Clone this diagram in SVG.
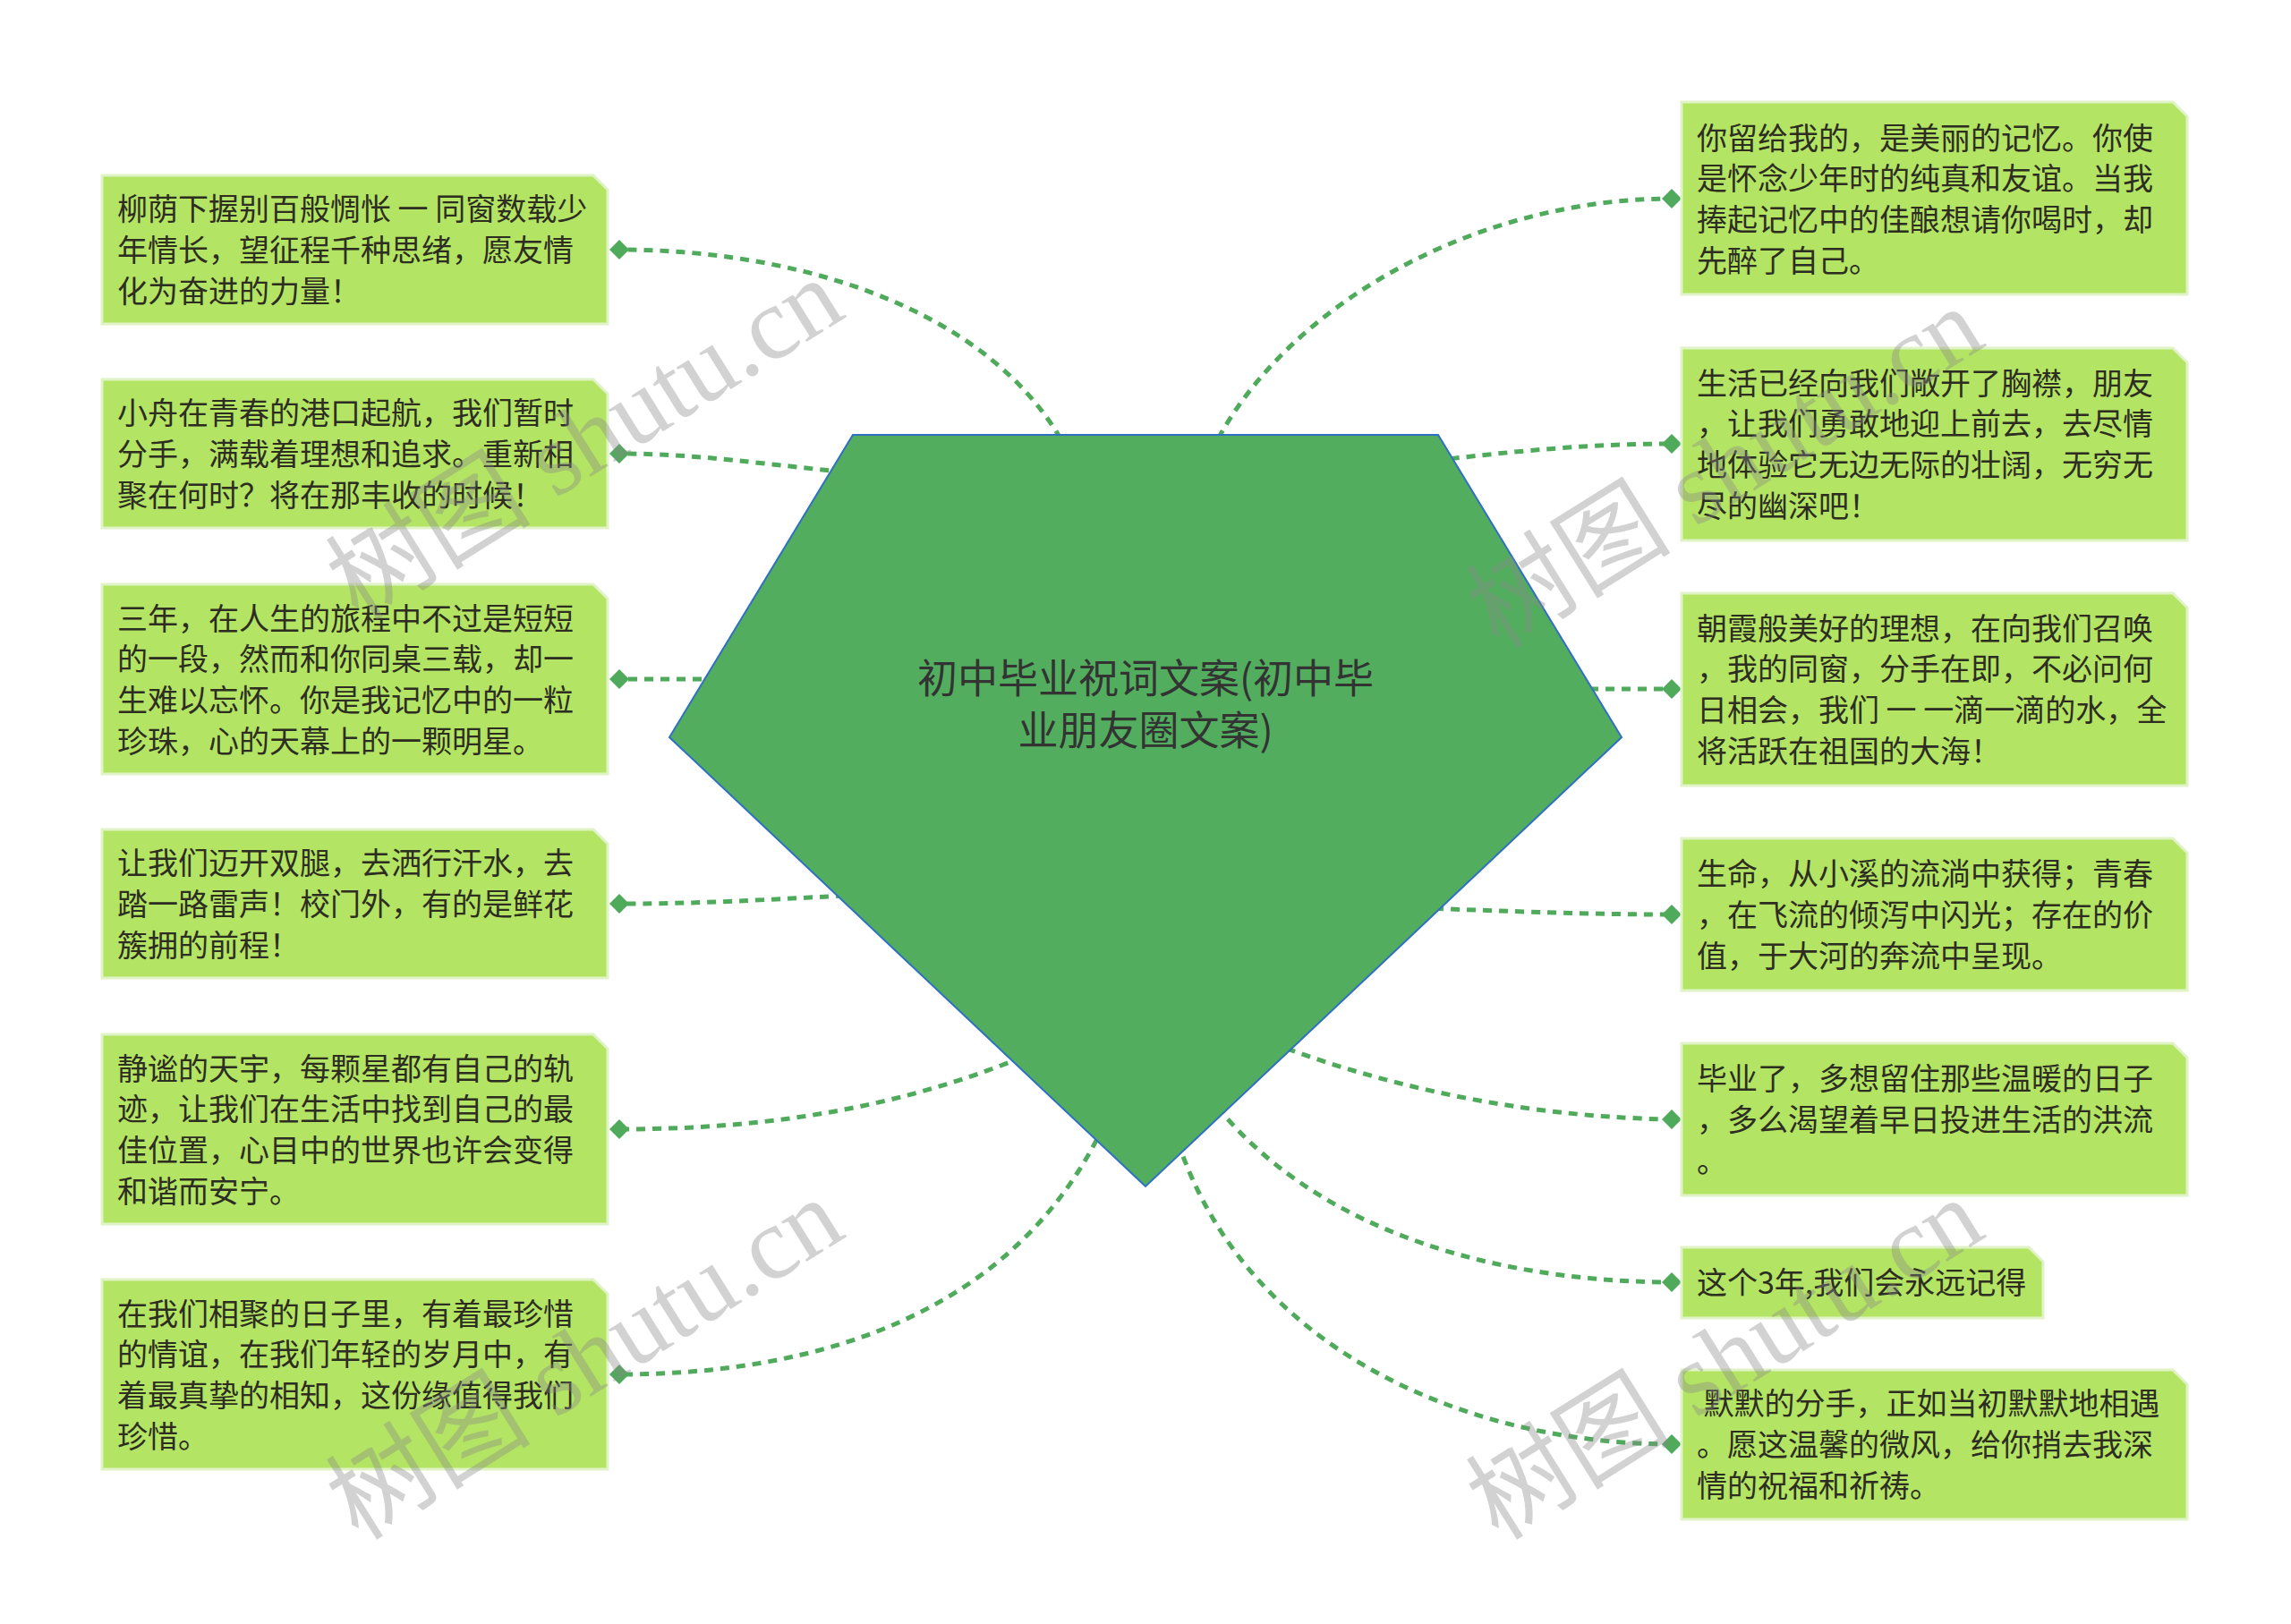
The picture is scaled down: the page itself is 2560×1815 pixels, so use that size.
<svg xmlns="http://www.w3.org/2000/svg" xmlns:xlink="http://www.w3.org/1999/xlink" width="2560" height="1815" viewBox="0 0 2560 1815">
<style>
.conn{fill:none;stroke:#4fab5b;stroke-width:5;stroke-dasharray:10 8}
.box{fill:#b3e463;stroke:#dff3c6;stroke-width:3}
.t{font-family:"Noto Sans CJK SC","Microsoft YaHei",sans-serif;font-size:34px;fill:#2d2d22}
.title{font-family:"Noto Sans CJK SC","Microsoft YaHei",sans-serif;font-size:45px;fill:#333333;text-anchor:middle}
.wm{font-family:"Liberation Serif","Noto Sans CJK SC",serif;font-size:115px;fill:#8a8a8a;fill-opacity:0.38;text-anchor:middle}
.dia{fill:#4fab5b}
</style>
<defs>
<path id="dm" class="dia" d="M0 -11 L11 0 L0 11 L-11 0 Z"/>
</defs>
<rect width="2560" height="1815" fill="#ffffff"/>
<g id="connectors">
<path class="conn" d="M1208 539 C1143 359 914 279 692 279"/>
<path class="conn" d="M980 531 C849 519 784 507 692 507"/>
<path class="conn" d="M820 759 L692 759"/>
<path class="conn" d="M980 999 C849 1006 784 1010 692 1010"/>
<path class="conn" d="M1176 1167 C1012 1241 849 1262 692 1262"/>
<path class="conn" d="M1241 1241 C1143 1469 914 1536 692 1536"/>
<path class="conn" d="M1339 539 C1404 359 1633 222 1868 222"/>
<path class="conn" d="M1567 519 C1698 503 1780 496 1868 496"/>
<path class="conn" d="M1740 770 L1868 770"/>
<path class="conn" d="M1567 1014 C1698 1019 1780 1022 1868 1022"/>
<path class="conn" d="M1404 1159 C1567 1224 1731 1249 1868 1251"/>
<path class="conn" d="M1339 1208 C1437 1355 1633 1432 1868 1433"/>
<path class="conn" d="M1306 1241 C1371 1502 1633 1614 1868 1614"/>
<use xlink:href="#dm" x="692" y="279"/>
<use xlink:href="#dm" x="692" y="507"/>
<use xlink:href="#dm" x="692" y="759"/>
<use xlink:href="#dm" x="692" y="1010"/>
<use xlink:href="#dm" x="692" y="1262"/>
<use xlink:href="#dm" x="692" y="1536"/>
<use xlink:href="#dm" x="1868" y="222"/>
<use xlink:href="#dm" x="1868" y="496"/>
<use xlink:href="#dm" x="1868" y="770"/>
<use xlink:href="#dm" x="1868" y="1022"/>
<use xlink:href="#dm" x="1868" y="1251"/>
<use xlink:href="#dm" x="1868" y="1433"/>
<use xlink:href="#dm" x="1868" y="1614"/>
</g>
<g id="center">
<polygon points="953,486 1607,486 1812,824 1280,1326 748,824" fill="#52ae5e" stroke="#2f6fc4" stroke-width="2"/>
<text class="title"><tspan x="1280" y="775">初中毕业祝词文案(初中毕</tspan><tspan x="1280" y="833">业朋友圈文案)</tspan></text>
</g>
<g id="L1">
<path class="box" d="M114 196 H663 L679 212 V362 H114 Z"/>
<text class="t"><tspan x="131" y="246">柳荫下握别百般惆怅 一 同窗数载少</tspan><tspan x="131" y="292">年情长，望征程千种思绪，愿友情</tspan><tspan x="131" y="338">化为奋进的力量！</tspan></text>
</g>
<g id="L2">
<path class="box" d="M114 424 H663 L679 440 V590 H114 Z"/>
<text class="t"><tspan x="131" y="474">小舟在青春的港口起航，我们暂时</tspan><tspan x="131" y="520">分手，满载着理想和追求。重新相</tspan><tspan x="131" y="566">聚在何时？将在那丰收的时候！</tspan></text>
</g>
<g id="L3">
<path class="box" d="M114 653 H663 L679 669 V865 H114 Z"/>
<text class="t"><tspan x="131" y="704">三年，在人生的旅程中不过是短短</tspan><tspan x="131" y="749">的一段，然而和你同桌三载，却一</tspan><tspan x="131" y="795">生难以忘怀。你是我记忆中的一粒</tspan><tspan x="131" y="841">珍珠，心的天幕上的一颗明星。</tspan></text>
</g>
<g id="L4">
<path class="box" d="M114 927 H663 L679 943 V1093 H114 Z"/>
<text class="t"><tspan x="131" y="977">让我们迈开双腿，去洒行汗水，去</tspan><tspan x="131" y="1023">踏一路雷声！校门外，有的是鲜花</tspan><tspan x="131" y="1069">簇拥的前程！</tspan></text>
</g>
<g id="L5">
<path class="box" d="M114 1156 H663 L679 1172 V1368 H114 Z"/>
<text class="t"><tspan x="131" y="1207">静谧的天宇，每颗星都有自己的轨</tspan><tspan x="131" y="1252">迹，让我们在生活中找到自己的最</tspan><tspan x="131" y="1298">佳位置，心目中的世界也许会变得</tspan><tspan x="131" y="1344">和谐而安宁。</tspan></text>
</g>
<g id="L6">
<path class="box" d="M114 1430 H663 L679 1446 V1642 H114 Z"/>
<text class="t"><tspan x="131" y="1481">在我们相聚的日子里，有着最珍惜</tspan><tspan x="131" y="1526">的情谊，在我们年轻的岁月中，有</tspan><tspan x="131" y="1572">着最真挚的相知，这份缘值得我们</tspan><tspan x="131" y="1618">珍惜。</tspan></text>
</g>
<g id="R1">
<path class="box" d="M1879 114 H2428 L2444 130 V329 H1879 Z"/>
<text class="t"><tspan x="1896" y="167">你留给我的，是美丽的记忆。你使</tspan><tspan x="1896" y="212">是怀念少年时的纯真和友谊。当我</tspan><tspan x="1896" y="258">捧起记忆中的佳酿想请你喝时，却</tspan><tspan x="1896" y="304">先醉了自己。</tspan></text>
</g>
<g id="R2">
<path class="box" d="M1879 389 H2428 L2444 405 V604 H1879 Z"/>
<text class="t"><tspan x="1896" y="441">生活已经向我们敞开了胸襟，朋友</tspan><tspan x="1896" y="486">，让我们勇敢地迎上前去，去尽情</tspan><tspan x="1896" y="532">地体验它无边无际的壮阔，无穷无</tspan><tspan x="1896" y="578">尽的幽深吧！</tspan></text>
</g>
<g id="R3">
<path class="box" d="M1879 663 H2428 L2444 679 V878 H1879 Z"/>
<text class="t"><tspan x="1896" y="715">朝霞般美好的理想，在向我们召唤</tspan><tspan x="1896" y="760">，我的同窗，分手在即，不必问何</tspan><tspan x="1896" y="806">日相会，我们 一 一滴一滴的水，全</tspan><tspan x="1896" y="852">将活跃在祖国的大海！</tspan></text>
</g>
<g id="R4">
<path class="box" d="M1879 937 H2428 L2444 953 V1107 H1879 Z"/>
<text class="t"><tspan x="1896" y="989">生命，从小溪的流淌中获得；青春</tspan><tspan x="1896" y="1035">，在飞流的倾泻中闪光；存在的价</tspan><tspan x="1896" y="1081">值，于大河的奔流中呈现。</tspan></text>
</g>
<g id="R5">
<path class="box" d="M1879 1166 H2428 L2444 1182 V1336 H1879 Z"/>
<text class="t"><tspan x="1896" y="1218">毕业了，多想留住那些温暖的日子</tspan><tspan x="1896" y="1264">，多么渴望着早日投进生活的洪流</tspan><tspan x="1896" y="1310">。</tspan></text>
</g>
<g id="R6">
<path class="box" d="M1879 1394 H2267 L2283 1410 V1473 H1879 Z"/>
<text class="t"><tspan x="1896" y="1446">这个3年,我们会永远记得</tspan></text>
</g>
<g id="R7">
<path class="box" d="M1879 1531 H2428 L2444 1547 V1698 H1879 Z"/>
<text class="t" xml:space="preserve"><tspan x="1896" y="1581"> 默默的分手，正如当初默默地相遇</tspan><tspan x="1896" y="1627">。愿这温馨的微风，给你捎去我深</tspan><tspan x="1896" y="1673">情的祝福和祈祷。</tspan></text>
</g>
<g id="watermarks">
<text class="wm" x="653" y="530" transform="rotate(-32 653 490)">树图 shutu.cn</text>
<text class="wm" x="653" y="1558" transform="rotate(-32 653 1518)">树图 shutu.cn</text>
<text class="wm" x="1927" y="562" transform="rotate(-32 1927 522)">树图 shutu.cn</text>
<text class="wm" x="1927" y="1558" transform="rotate(-32 1927 1518)">树图 shutu.cn</text>
</g>
</svg>
